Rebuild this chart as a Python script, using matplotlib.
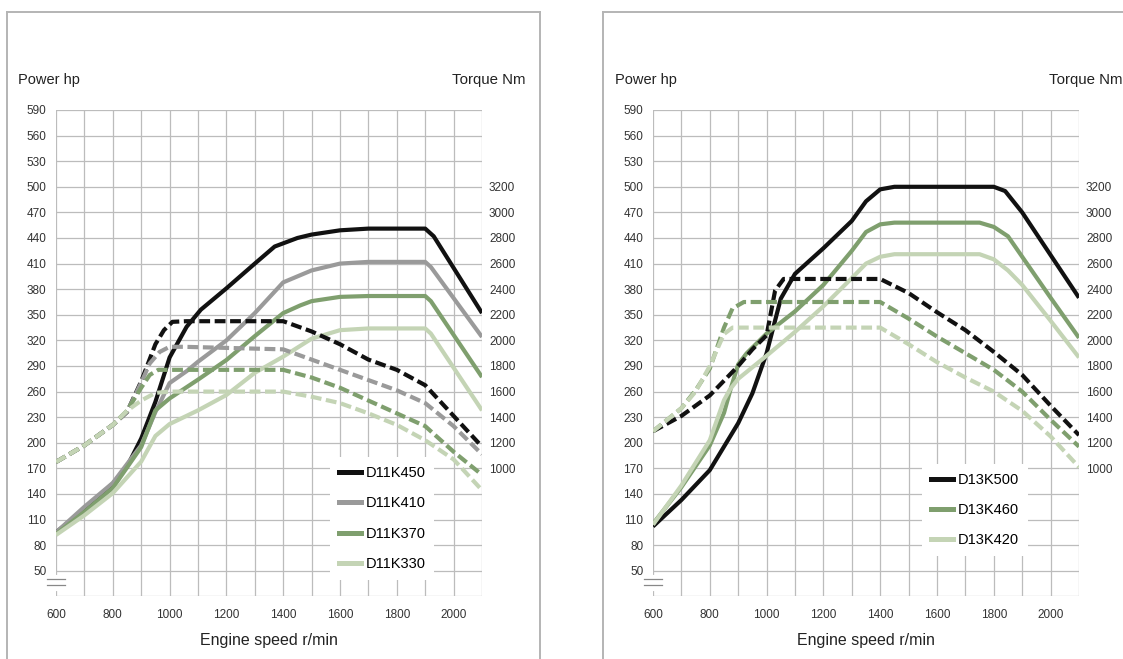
import matplotlib
matplotlib.use("Agg")
import matplotlib.pyplot as plt
from matplotlib.lines import Line2D

plt.rcParams['font.family'] = ['Liberation Sans', 'DejaVu Sans']

W, H = 1123, 659

# ---- left chart (D11) : power hp (solid) / torque Nm (dashed) ----
d11_names = ['D11K450', 'D11K410', 'D11K370', 'D11K330']

p450_rpm = [600, 700, 800, 850, 900, 950, 1000, 1060, 1110, 1200, 1300, 1370, 1450, 1500, 1600, 1700, 1900, 1930, 2100]
p450 = [95, 122, 152, 172, 205, 248, 300, 336, 356, 381, 410, 430, 440, 444, 449, 451, 451, 442, 352]
p410_rpm = [600, 700, 800, 900, 950, 1000, 1060, 1100, 1200, 1300, 1400, 1500, 1600, 1700, 1900, 1920, 2100]
p410 = [95, 125, 153, 197, 236, 270, 284, 295, 320, 352, 388, 402, 410, 412, 412, 406, 324]
p370_rpm = [600, 700, 800, 900, 950, 1000, 1100, 1200, 1300, 1400, 1460, 1500, 1600, 1700, 1900, 1920, 2100]
p370 = [93, 119, 147, 195, 238, 252, 274, 297, 325, 352, 361, 366, 371, 372, 372, 366, 277]
p330_rpm = [600, 700, 800, 900, 950, 1000, 1100, 1200, 1300, 1400, 1500, 1600, 1700, 1900, 1920, 2100]
p330 = [92, 115, 141, 178, 208, 222, 238, 256, 282, 301, 322, 332, 334, 334, 328, 238]

t450_rpm = [600, 700, 800, 850, 900, 950, 980, 1010, 1060, 1400, 1500, 1600, 1700, 1800, 1900, 2000, 2100]
t450 = [1050, 1180, 1340, 1440, 1680, 1970, 2080, 2145, 2150, 2150, 2070, 1970, 1850, 1770, 1650, 1410, 1170]
t410_rpm = [600, 700, 800, 850, 900, 930, 965, 1000, 1050, 1400, 1500, 1600, 1700, 1800, 1900, 2000, 2100]
t410 = [1050, 1180, 1340, 1440, 1670, 1820, 1910, 1950, 1950, 1930, 1850, 1770, 1690, 1610, 1510, 1330, 1110]
t370_rpm = [600, 700, 800, 850, 900, 930, 960, 1400, 1500, 1600, 1700, 1800, 1900, 2000, 2100]
t370 = [1050, 1180, 1340, 1450, 1630, 1730, 1770, 1770, 1710, 1630, 1530, 1430, 1330, 1130, 950]
t330_rpm = [600, 700, 800, 850, 900, 950, 1000, 1400, 1500, 1600, 1700, 1800, 1900, 2000, 2100]
t330 = [1050, 1180, 1340, 1450, 1530, 1590, 1600, 1600, 1560, 1510, 1430, 1340, 1220, 1070, 830]

# ---- right chart (D13) ----
d13_names = ['D13K500', 'D13K460', 'D13K420']

p500_rpm = [600, 700, 800, 900, 950, 1000, 1050, 1100, 1200, 1300, 1350, 1400, 1450, 1800, 1840, 1900, 2000, 2100]
p500 = [102, 133, 168, 223, 258, 305, 369, 398, 428, 460, 483, 497, 500, 500, 495, 470, 420, 370]
p460_rpm = [600, 700, 800, 850, 875, 900, 930, 1000, 1100, 1200, 1300, 1350, 1400, 1450, 1750, 1800, 1850, 1900, 2000, 2100]
p460 = [105, 148, 197, 235, 265, 292, 305, 328, 354, 385, 425, 447, 456, 458, 458, 453, 442, 418, 370, 323]
p420_rpm = [600, 700, 800, 850, 870, 900, 1000, 1100, 1200, 1300, 1350, 1400, 1450, 1750, 1800, 1850, 1900, 2000, 2100]
p420 = [104, 150, 203, 250, 262, 275, 302, 330, 360, 393, 410, 418, 421, 421, 415, 402, 385, 343, 300]

t500_rpm = [600, 700, 800, 900, 950, 1000, 1030, 1060, 1400, 1500, 1600, 1700, 1800, 1900, 2000, 2100]
t500 = [1290, 1410, 1570, 1800, 1930, 2040, 2390, 2480, 2480, 2370, 2220, 2080, 1910, 1730, 1490, 1260]
t460_rpm = [600, 700, 750, 800, 850, 880, 920, 1400, 1500, 1600, 1700, 1800, 1900, 2000, 2100]
t460 = [1290, 1470, 1610, 1780, 2100, 2250, 2300, 2300, 2170, 2030, 1900, 1770, 1600, 1380, 1170]
t420_rpm = [600, 700, 750, 800, 850, 880, 1400, 1500, 1600, 1700, 1800, 1900, 2000, 2100]
t420 = [1290, 1470, 1600, 1800, 2050, 2100, 2100, 1970, 1830, 1710, 1600, 1450, 1250, 1010]

hp_ticks = list(range(20, 591, 30))
nm_ticks = list(range(1000, 3201, 200))
rpm_ticks = list(range(600, 2101, 100))

BLACK = '#111111'
GREY = '#9a9a9a'
GREEN = '#7f9f6e'
LIGHT = '#c4d4b5'
GRID = '#bcbcbc'
FRAME = '#b4b4b4'
LW = 3.0

fig = plt.figure(figsize=(W / 100, H / 100), dpi=100)


def px(x, y):
    return x / W, 1 - y / H


def setup(left_px, power, torque, colors, names, leg_xy):
    ax = fig.add_axes([left_px / W, 1 - 596.4 / H, 426 / W, 486.4 / H])
    ax.set_xlim(600, 2100)
    ax.set_ylim(20, 590)
    ax.set_xticks(rpm_ticks)
    ax.set_xticklabels([str(v) if v <= 2000 and (v - 600) % 200 == 0 else '' for v in rpm_ticks])
    ax.set_yticks(hp_ticks)
    ax.set_yticklabels([str(v) if v >= 50 else '' for v in hp_ticks])
    ax.tick_params(axis='both', length=0, labelsize=8.5, colors='#333333')
    ax.tick_params(axis='y', pad=7)
    ax.tick_params(axis='x', pad=9)
    ax.grid(True, color=GRID, lw=0.9)
    ax.set_axisbelow(True)
    for s in ax.spines.values():
        s.set_visible(False)

    tx = ax.twinx()
    tx.set_ylim(0, 3800)
    tx.set_yticks(nm_ticks)
    tx.tick_params(axis='y', length=0, labelsize=8.5, pad=5, colors='#333333')
    for s in tx.spines.values():
        s.set_visible(False)

    for (r, v), c in zip(power, colors):
        ax.plot(r, v, color=c, lw=LW, solid_joinstyle='round', solid_capstyle='butt')
    for (r, v), c in zip(torque, colors):
        tx.plot(r, v, color=c, lw=LW, ls=(0, (2.6, 1.1)), dash_joinstyle='round')

    # axis break mark
    ax.plot([600, 600], [29, 43], color='white', lw=3, clip_on=False, zorder=5)
    for yb in (40.5, 33.5):
        ax.plot([569, 631], [yb, yb], color='#888888', lw=0.9, clip_on=False, zorder=6)

    handles = [Line2D([], [], color=c, lw=3.6) for c in colors]
    leg = tx.legend(handles, names, loc='lower left', bbox_to_anchor=leg_xy,
                    borderaxespad=0, fontsize=10.5, handlelength=1.55,
                    handletextpad=0.3, labelspacing=1.12, borderpad=0.6,
                    frameon=True, fancybox=False, framealpha=1,
                    facecolor='white', edgecolor='none')
    leg.set_zorder(20)

    fig.text(*px(left_px - 38, 80), 'Power hp', fontsize=10.5, va='center', ha='left', color='#222222')
    fig.text(*px(left_px + 396, 80), 'Torque Nm', fontsize=10.8, va='center', ha='left', color='#222222')
    fig.text(*px(left_px + 213, 641), 'Engine speed r/min', fontsize=11.5, va='center', ha='center', color='#222222')
    return ax


setup(56,
      [(p450_rpm, p450), (p410_rpm, p410), (p370_rpm, p370), (p330_rpm, p330)],
      [(t450_rpm, t450), (t410_rpm, t410), (t370_rpm, t370), (t330_rpm, t330)],
      [BLACK, GREY, GREEN, LIGHT], d11_names, (0.643, 0.034))

setup(653,
      [(p500_rpm, p500), (p460_rpm, p460), (p420_rpm, p420)],
      [(t500_rpm, t500), (t460_rpm, t460), (t420_rpm, t420)],
      [BLACK, GREEN, LIGHT], d13_names, (0.631, 0.083))

# panel frames
for seg in [((7, 12), (7, 659)), ((7, 12), (540, 12)), ((540, 12), (540, 659)),
            ((603, 12), (603, 659)), ((603, 12), (1123, 12))]:
    (x0, y0), (x1, y1) = seg
    a, b = px(x0, y0)
    c, d = px(x1, y1)
    fig.add_artist(Line2D([a, c], [b, d], color=FRAME, lw=1.4))

fig.savefig('out.png', dpi=100)
